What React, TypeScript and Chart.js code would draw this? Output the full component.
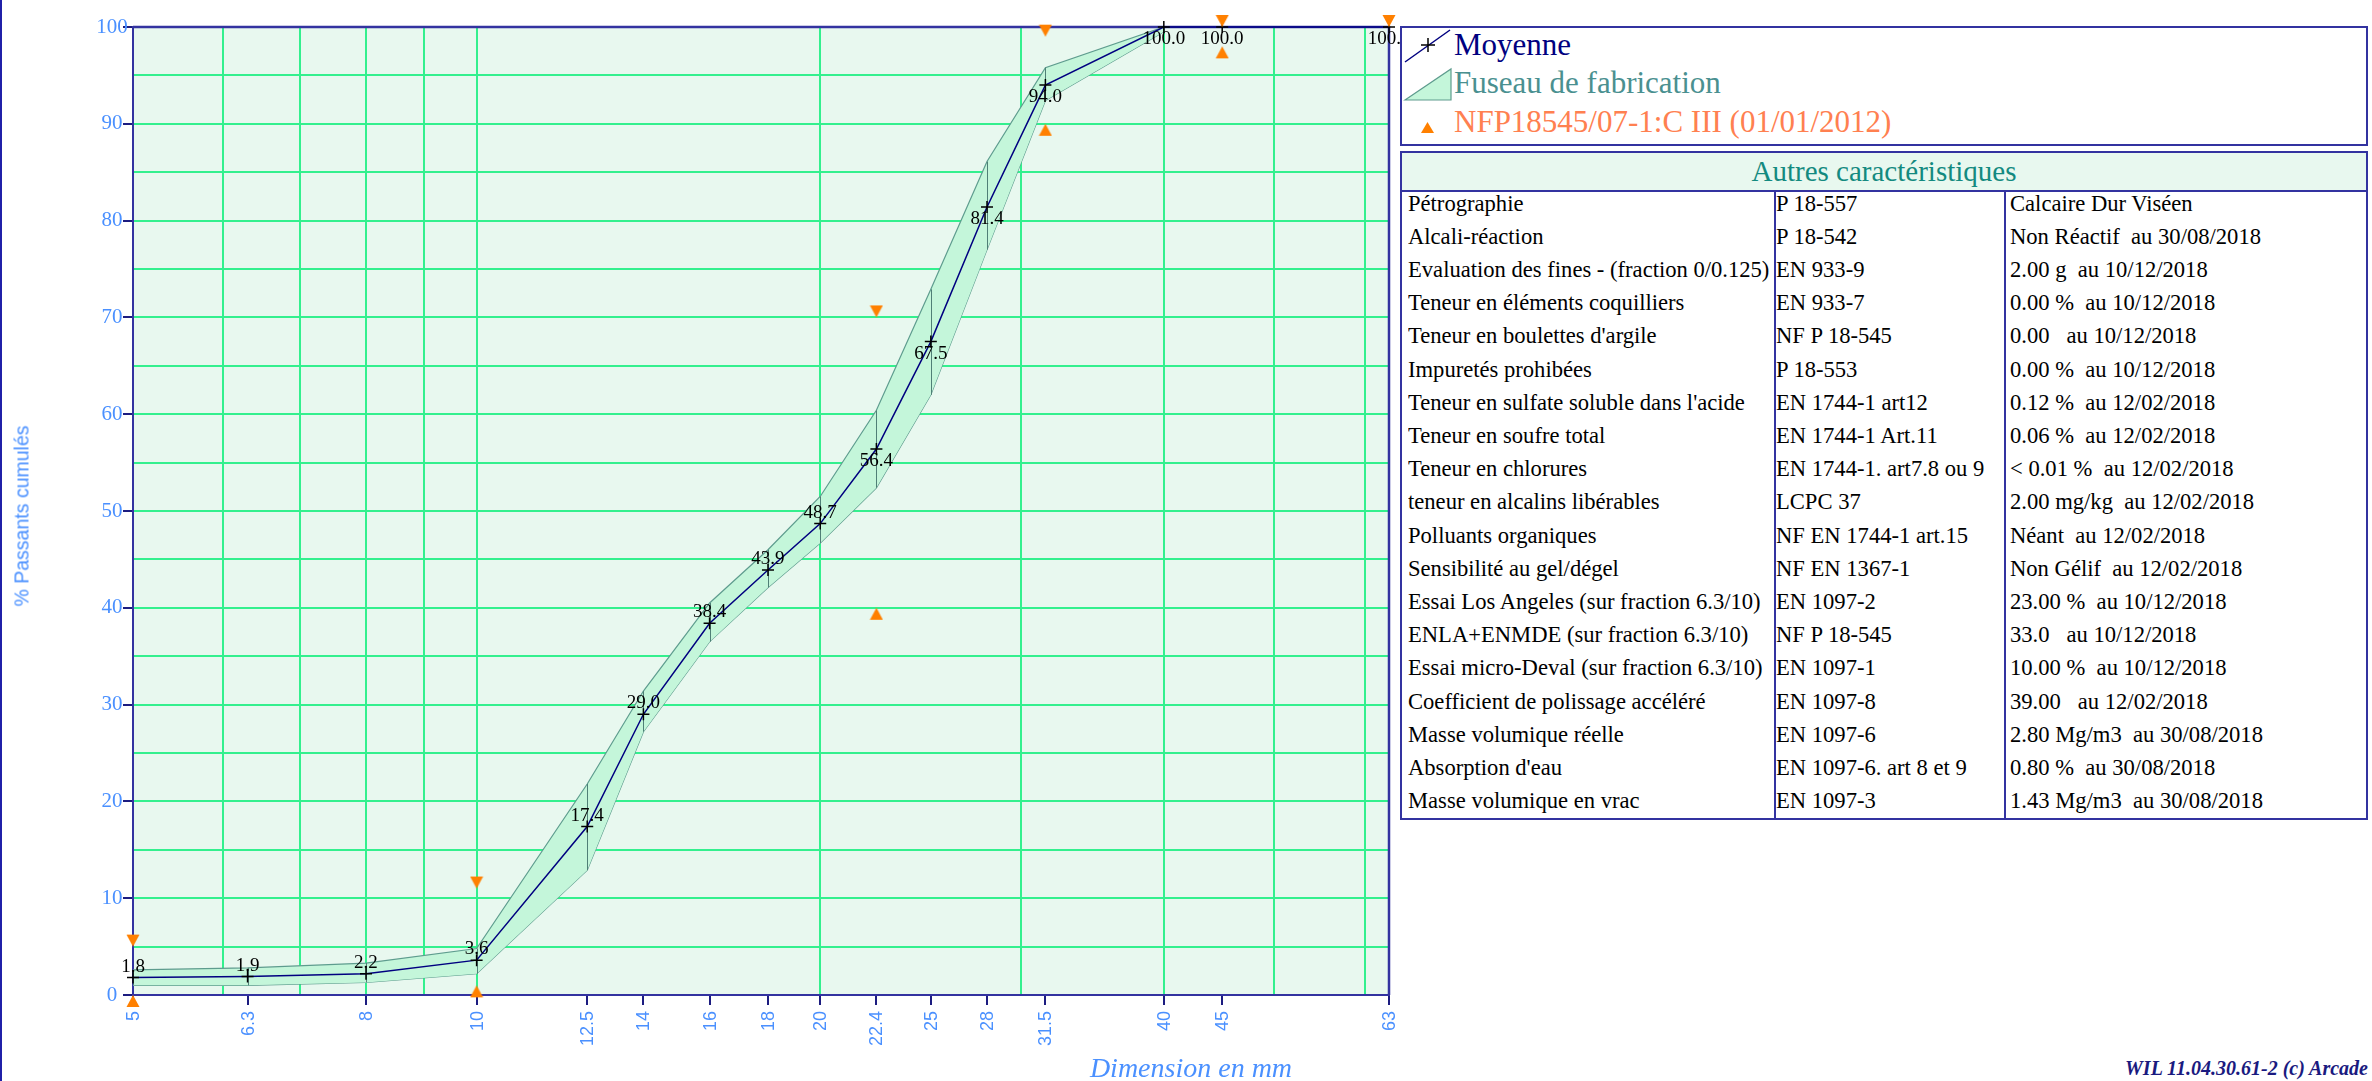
import React, { useEffect, useRef } from 'react';
import { Chart, registerables } from 'chart.js';

Chart.register(...registerables);

// ---------- data ----------
const sieves = [5, 6.3, 8, 10, 12.5, 14, 16, 18, 20, 22.4, 25, 28, 31.5, 40, 45, 63];
const meanValues = [1.8, 1.9, 2.2, 3.6, 17.4, 29.0, 38.4, 43.9, 48.7, 56.4, 67.5, 81.4, 94.0, 100.0, 100.0, 100.0];

const bandSieves = [5, 6.3, 8, 10, 12.5, 14, 16, 18, 20, 22.4, 25, 28, 31.5, 40];
const bandUpper = [2.6, 2.8, 3.3, 4.8, 21.8, 31.4, 40.5, 46.0, 51.5, 60.4, 72.9, 86.1, 95.8, 100];
const bandLower = [1.0, 1.0, 1.3, 2.2, 12.9, 27.2, 36.5, 42.1, 46.7, 52.4, 62.0, 77.0, 92.4, 99.5];

const limitSieves = [5, 10, 22.4, 31.5, 45, 63];
const limitUpper = [5, 11, 70, 99, 100, 100];
const limitLower: (number | null)[] = [0, 1, 40, 90, 98, null];

const xTickValues = [5, 6.3, 8, 10, 12.5, 14, 16, 18, 20, 22.4, 25, 28, 31.5, 40, 45, 63];
const xTickLabels = ['5', '6.3', '8', '10', '12.5', '14', '16', '18', '20', '22.4', '25', '28', '31.5', '40', '45', '63'];
const xGridValues = [6, 7, 8, 9, 10, 20, 30, 40, 50, 60];
const yTickValues = [0, 10, 20, 30, 40, 50, 60, 70, 80, 90, 100];

const testNames = [
  'Pétrographie',
  'Alcali-réaction',
  'Evaluation des fines - (fraction 0/0.125)',
  'Teneur en éléments coquilliers',
  "Teneur en boulettes d'argile",
  'Impuretés prohibées',
  "Teneur en sulfate soluble dans l'acide",
  'Teneur en soufre total',
  'Teneur en chlorures',
  'teneur en alcalins libérables',
  'Polluants organiques',
  'Sensibilité au gel/dégel',
  'Essai Los Angeles (sur fraction 6.3/10)',
  'ENLA+ENMDE (sur fraction 6.3/10)',
  'Essai micro-Deval (sur fraction 6.3/10)',
  'Coefficient de polissage accéléré',
  'Masse volumique réelle',
  "Absorption d'eau",
  'Masse volumique en vrac',
];
const testStandards = [
  'P 18-557', 'P 18-542', 'EN 933-9', 'EN 933-7', 'NF P 18-545', 'P 18-553', 'EN 1744-1 art12',
  'EN 1744-1 Art.11', 'EN 1744-1. art7.8 ou 9', 'LCPC 37', 'NF EN 1744-1 art.15', 'NF EN 1367-1',
  'EN 1097-2', 'NF P 18-545', 'EN 1097-1', 'EN 1097-8', 'EN 1097-6', 'EN 1097-6. art 8 et 9', 'EN 1097-3',
];
const testResults = [
  'Calcaire Dur Viséen',
  'Non Réactif  au 30/08/2018',
  '2.00 g  au 10/12/2018',
  '0.00 %  au 10/12/2018',
  '0.00   au 10/12/2018',
  '0.00 %  au 10/12/2018',
  '0.12 %  au 12/02/2018',
  '0.06 %  au 12/02/2018',
  '< 0.01 %  au 12/02/2018',
  '2.00 mg/kg  au 12/02/2018',
  'Néant  au 12/02/2018',
  'Non Gélif  au 12/02/2018',
  '23.00 %  au 10/12/2018',
  '33.0   au 10/12/2018',
  '10.00 %  au 10/12/2018',
  '39.00   au 12/02/2018',
  '2.80 Mg/m3  au 30/08/2018',
  '0.80 %  au 30/08/2018',
  '1.43 Mg/m3  au 30/08/2018',
];

// ---------- style ----------
const NAVY = '#3333a0';
const GRID = '#33f08e';
const PLOT_BG = '#e8f8ef';
const BAND_FILL = '#c4f6da';
const BAND_EDGE = '#5e9c8e';
const TICK_BLUE = '#4a90ff';
const ORANGE = '#ff8000';
const SERIF = '"Liberation Serif", "Times New Roman", serif';
const SANS = '"Liberation Sans", Arial, sans-serif';

function makeTriangle(down: boolean): HTMLCanvasElement {
  const c = document.createElement('canvas');
  c.width = 14;
  c.height = 26;
  const g = c.getContext('2d')!;
  g.fillStyle = ORANGE;
  g.beginPath();
  if (down) {
    g.moveTo(0.5, 1);
    g.lineTo(13.5, 1);
    g.lineTo(7, 13);
  } else {
    g.moveTo(7, 13);
    g.lineTo(13.5, 25);
    g.lineTo(0.5, 25);
  }
  g.closePath();
  g.fill();
  return c;
}

const overlayPlugin = {
  id: 'overlay',
  beforeDraw(chart: any) {
    const { ctx, chartArea: a } = chart;
    ctx.save();
    ctx.fillStyle = PLOT_BG;
    ctx.fillRect(a.left, a.top, a.right - a.left, a.bottom - a.top);
    ctx.restore();
  },
  beforeDatasetsDraw(chart: any) {
    const { ctx, chartArea: a } = chart;
    ctx.save();
    ctx.strokeStyle = NAVY;
    ctx.lineWidth = 2.5;
    ctx.beginPath();
    ctx.moveTo(a.left, a.top);
    ctx.lineTo(a.right, a.top);
    ctx.lineTo(a.right, a.bottom);
    ctx.stroke();
    ctx.restore();
  },
  beforeDatasetDraw(chart: any, args: any) {
    if (args.index !== 2) return;
    const { ctx } = chart;
    const up = chart.getDatasetMeta(3).data;
    const lo = chart.getDatasetMeta(4).data;
    ctx.save();
    ctx.strokeStyle = '#4f7f76';
    ctx.lineWidth = 1;
    for (let i = 0; i < up.length; i++) {
      ctx.beginPath();
      ctx.moveTo(Math.round(up[i].x) + 0.5, up[i].y);
      ctx.lineTo(Math.round(lo[i].x) + 0.5, lo[i].y);
      ctx.stroke();
    }
    ctx.restore();
  },
  afterDraw(chart: any) {
    const { ctx, chartArea: a, scales } = chart;
    ctx.save();
    // value labels on the mean curve
    const pts = chart.getDatasetMeta(2).data;
    ctx.font = `19px ${SERIF}`;
    ctx.fillStyle = '#000';
    ctx.textAlign = 'center';
    ctx.textBaseline = 'middle';
    pts.forEach((p: any, i: number) => {
      const v = meanValues[i];
      const dy = v >= 50 ? 12 : -11;
      ctx.fillText(v.toFixed(1), p.x, p.y + dy);
    });
    // x tick labels (rotated)
    ctx.font = `18px ${SANS}`;
    ctx.fillStyle = TICK_BLUE;
    ctx.textAlign = 'right';
    ctx.textBaseline = 'middle';
    xTickValues.forEach((v, i) => {
      const x = scales.x.getPixelForValue(v);
      ctx.save();
      ctx.translate(x + 1, a.bottom + 16);
      ctx.rotate(-Math.PI / 2);
      ctx.fillText(xTickLabels[i], 0, 0);
      ctx.restore();
    });
    // y tick labels
    ctx.font = `21px ${SERIF}`;
    ctx.textAlign = 'center';
    yTickValues.forEach((v) => {
      const y = scales.y.getPixelForValue(v);
      ctx.fillText(String(v), a.left - 21, y);
    });
    ctx.restore();
  },
};

export default function App() {
  const ref = useRef<HTMLCanvasElement | null>(null);

  useEffect(() => {
    const canvas = ref.current;
    if (!canvas) return;
    const triDown = makeTriangle(true);
    const triUp = makeTriangle(false);
    const allX = Array.from(new Set([...xTickValues, ...xGridValues])).sort((a, b) => a - b);

    const chart = new Chart(canvas, {
      type: 'line',
      data: {
        datasets: [
          {
            label: 'NFP18545 min',
            data: limitSieves
              .map((x, i) => ({ x, y: limitLower[i] }))
              .filter((p) => p.y !== null) as any,
            showLine: false,
            pointStyle: triUp as any,
            pointRadius: 7,
            clip: false as any,
          },
          {
            label: 'NFP18545 max',
            data: limitSieves.map((x, i) => ({ x, y: limitUpper[i] })) as any,
            showLine: false,
            pointStyle: triDown as any,
            pointRadius: 7,
            clip: false as any,
          },
          {
            label: 'Moyenne',
            data: sieves.map((x, i) => ({ x, y: meanValues[i] })) as any,
            borderColor: '#000080',
            borderWidth: 1.5,
            pointStyle: 'cross',
            pointRadius: 6,
            pointBorderColor: '#000',
            pointBorderWidth: 1.5,
            fill: false,
            tension: 0,
            clip: false as any,
          },
          {
            label: 'Fuseau haut',
            data: bandSieves.map((x, i) => ({ x, y: bandUpper[i] })) as any,
            borderColor: BAND_EDGE,
            borderWidth: 1.2,
            backgroundColor: BAND_FILL,
            pointRadius: 0,
            fill: '+1',
            tension: 0,
          },
          {
            label: 'Fuseau bas',
            data: bandSieves.map((x, i) => ({ x, y: bandLower[i] })) as any,
            borderColor: BAND_EDGE,
            borderWidth: 1.2,
            pointRadius: 0,
            fill: false,
            tension: 0,
          },
        ],
      },
      options: {
        responsive: false,
        animation: false,
        devicePixelRatio: 1,
        layout: { padding: { top: 27, right: 11, left: 0, bottom: 0 } },
        plugins: { legend: { display: false }, tooltip: { enabled: false } },
        scales: {
          x: {
            type: 'logarithmic',
            min: 5,
            max: 63,
            afterBuildTicks: (s: any) => {
              s.ticks = allX.map((v) => ({ value: v }));
            },
            afterFit: (s: any) => {
              s.height = 86;
            },
            ticks: { display: false },
            grid: {
              color: (c: any) =>
                c.tick && xGridValues.includes(c.tick.value) ? GRID : 'rgba(0,0,0,0)',
              tickColor: (c: any) =>
                c.tick && xTickValues.includes(c.tick.value) ? '#1c1c80' : 'rgba(0,0,0,0)',
              lineWidth: 2,
              tickWidth: 2,
              tickLength: 10,
              drawTicks: true,
            },
            border: { color: NAVY, width: 2 },
          } as any,
          y: {
            min: 0,
            max: 100,
            ticks: { display: false, stepSize: 5 },
            afterFit: (s: any) => {
              s.width = 133;
            },
            grid: {
              color: (c: any) =>
                c.tick && c.tick.value > 0 && c.tick.value < 100 ? GRID : 'rgba(0,0,0,0)',
              tickColor: (c: any) =>
                c.tick && c.tick.value % 10 === 0 ? '#1c1c80' : 'rgba(0,0,0,0)',
              lineWidth: 2,
              tickWidth: 2,
              tickLength: 10,
            },
            border: { color: NAVY, width: 2 },
          } as any,
        },
      },
      plugins: [overlayPlugin],
    });
    return () => chart.destroy();
  }, []);

  const legendText: React.CSSProperties = {
    position: 'absolute',
    left: 52,
    fontFamily: SERIF,
    fontSize: 31,
    lineHeight: '34px',
    whiteSpace: 'nowrap',
  };

  const ROW_H = 33.2;
  const cellText: React.CSSProperties = {
    position: 'absolute',
    fontFamily: SERIF,
    fontSize: 22.6,
    lineHeight: `${ROW_H}px`,
    height: ROW_H,
    whiteSpace: 'pre',
    color: '#000',
    overflow: 'hidden',
  };
  const COL1 = 372;
  const COL2 = 230;

  return (
    <div
      style={{
        position: 'absolute',
        left: 0,
        top: 0,
        width: 2372,
        height: 1081,
        background: '#fff',
        overflow: 'hidden',
      }}
    >
      <canvas
        ref={ref}
        width={1400}
        height={1081}
        style={{ position: 'absolute', left: 0, top: 0, width: 1400, height: 1081 }}
      />
      <div style={{ position: 'absolute', left: 0, top: 0, width: 2, height: 1081, background: '#2020a8' }} />

      {/* axis titles */}
      <div
        style={{
          position: 'absolute',
          left: 22,
          top: 516,
          transform: 'translate(-50%, -50%) rotate(-90deg)',
          fontFamily: SANS,
          fontSize: 19.5,
          color: TICK_BLUE,
          whiteSpace: 'nowrap',
        }}
      >
        % Passants cumulés
      </div>
      <div
        style={{
          position: 'absolute',
          left: 1191,
          top: 1068,
          transform: 'translate(-50%, -50%)',
          fontFamily: SERIF,
          fontStyle: 'italic',
          fontSize: 28,
          color: TICK_BLUE,
          whiteSpace: 'nowrap',
        }}
      >
        Dimension en mm
      </div>
      <div
        style={{
          position: 'absolute',
          right: 4,
          top: 1068,
          transform: 'translateY(-50%)',
          fontFamily: SERIF,
          fontStyle: 'italic',
          fontWeight: 'bold',
          fontSize: 20,
          color: '#1a1a80',
          whiteSpace: 'nowrap',
        }}
      >
        WIL 11.04.30.61-2 (c) Arcade
      </div>

      {/* legend */}
      <div
        style={{
          position: 'absolute',
          left: 1400,
          top: 26,
          width: 964,
          height: 116,
          border: `2px solid ${NAVY}`,
          background: '#fff',
        }}
      >
        <svg width={60} height={116} style={{ position: 'absolute', left: 0, top: 0 }}>
          <line x1={3} y1={34} x2={48} y2={2} stroke="#000080" strokeWidth={1.5} />
          <line x1={19} y1={17} x2={33} y2={17} stroke="#000" strokeWidth={1.5} />
          <line x1={26} y1={10} x2={26} y2={24} stroke="#000" strokeWidth={1.5} />
          <polygon points="3,72 49,41 49,72" fill={BAND_FILL} stroke={BAND_EDGE} strokeWidth={1.2} />
          <polygon points="25.5,94 32,105 19,105" fill={ORANGE} />
        </svg>
        <div style={{ ...legendText, top: 0, color: '#000080' }}>Moyenne</div>
        <div style={{ ...legendText, top: 38, color: '#4a9090' }}>Fuseau de fabrication</div>
        <div style={{ ...legendText, top: 77, color: '#ff8050' }}>NFP18545/07-1:C III (01/01/2012)</div>
      </div>

      {/* table */}
      <div
        style={{
          position: 'absolute',
          left: 1400,
          top: 151,
          width: 964,
          border: `2px solid ${NAVY}`,
          background: '#fff',
        }}
      >
        <div
          style={{
            height: 37,
            background: PLOT_BG,
            borderBottom: `2px solid ${NAVY}`,
            textAlign: 'center',
            fontFamily: SERIF,
            fontSize: 29,
            lineHeight: '37px',
            color: '#138a80',
            whiteSpace: 'nowrap',
          }}
        >
          Autres caractéristiques
        </div>
        <div style={{ position: 'relative', height: 626 }}>
          <div style={{ position: 'absolute', left: COL1, top: 0, width: 2, height: 626, background: NAVY }} />
          <div style={{ position: 'absolute', left: COL1 + COL2, top: 0, width: 2, height: 626, background: NAVY }} />
          {testNames.map((name, i) => {
            const top = -5.5 + i * ROW_H;
            return (
              <React.Fragment key={i}>
                <div style={{ ...cellText, top, left: 6, width: COL1 - 6 }}>{name}</div>
                <div style={{ ...cellText, top, left: COL1 + 2, width: COL2 - 2 }}>{testStandards[i]}</div>
                <div style={{ ...cellText, top, left: COL1 + COL2 + 6, width: 964 - COL1 - COL2 - 6 }}>
                  {testResults[i]}
                </div>
              </React.Fragment>
            );
          })}
        </div>
      </div>
    </div>
  );
}
